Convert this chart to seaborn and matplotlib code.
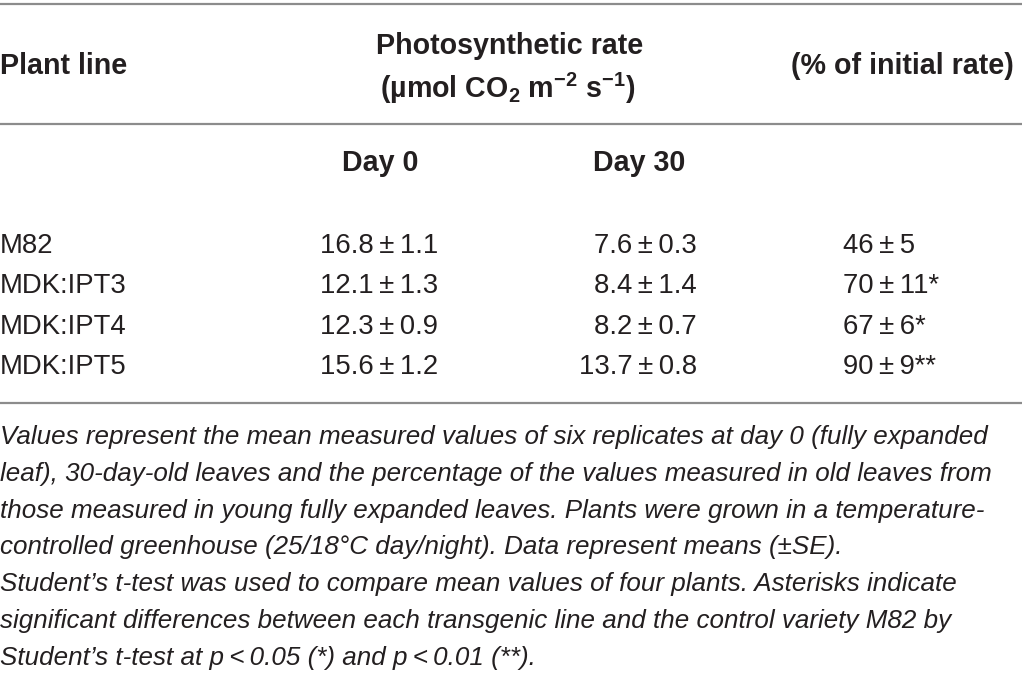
import matplotlib
matplotlib.use("Agg")
import matplotlib.pyplot as plt
import seaborn as sns

# table values
plant_lines = ["M82", "MDK:IPT3", "MDK:IPT4", "MDK:IPT5"]
day0_mean = [16.8, 12.1, 12.3, 15.6]
day0_se = [1.1, 1.3, 0.9, 1.2]
day30_mean = [7.6, 8.4, 8.2, 13.7]
day30_se = [0.3, 1.4, 0.7, 0.8]
pct_mean = [46, 70, 67, 90]
pct_se = [5, 11, 6, 9]
pct_sig = ["", "*", "*", "**"]

caption = [
    "Values represent the mean measured values of six replicates at day 0 (fully expanded",
    "leaf), 30-day-old leaves and the percentage of the values measured in old leaves from",
    "those measured in young fully expanded leaves. Plants were grown in a temperature-",
    "controlled greenhouse (25/18\u00b0C day/night). Data represent means (\u00b1SE).",
    "Student\u2019s t-test was used to compare mean values of four plants. Asterisks indicate",
    "significant differences between each transgenic line and the control variety M82 by",
    "Student\u2019s t-test at p\u2009<\u20090.05 (*) and p\u2009<\u20090.01 (**).",
]

sns.set_theme(style="white")
plt.rcParams["font.family"] = ["Liberation Sans", "DejaVu Sans"]
plt.rcParams["mathtext.fontset"] = "custom"
plt.rcParams["mathtext.rm"] = "Liberation Sans"
plt.rcParams["mathtext.bf"] = "Liberation Sans:bold"

INK = "#231f20"
RULE = "#8c8c8c"
HEAD = 20.6
BODY = 19.8
NOTE = 18.7
SP = "\u2009"

fig = plt.figure(figsize=(10.22, 6.86), dpi=100)
ax = fig.add_axes([0, 0, 1, 1])
ax.set_xlim(0, 1022)
ax.set_ylim(686, 0)
ax.axis("off")

for y in [4, 124, 403]:
    ax.axhline(y, color=RULE, lw=1.6)

# header
hd = dict(fontsize=HEAD, fontweight="bold", color=INK, va="center")
ax.text(0, 66, "Plant line", ha="left", **hd)
ax.text(510, 46, "Photosynthetic rate", ha="center", **hd)
ax.text(508, 88, "(\u00b5mol CO$_\\mathbf{2}$ m$^\\mathbf{-2}$ s$^\\mathbf{-1}$)", ha="center", **hd)
ax.text(1014, 66, "(% of initial rate)", ha="right", **hd)
ax.text(380, 163, "Day 0", ha="center", **hd)
ax.text(639, 163, "Day 30", ha="center", **hd)

# body rows
bd = dict(fontsize=BODY, color=INK, va="center")
for i, name in enumerate(plant_lines):
    y = 246 + i * 40.3
    ax.text(0, y, name, ha="left", **bd)
    ax.text(320, y, f"{day0_mean[i]:.1f}{SP}\u00b1{SP}{day0_se[i]:.1f}", ha="left", **bd)
    ax.text(697, y, f"{day30_mean[i]:.1f}{SP}\u00b1{SP}{day30_se[i]:.1f}", ha="right", **bd)
    ax.text(843, y, f"{pct_mean[i]}{SP}\u00b1{SP}{pct_se[i]}{pct_sig[i]}", ha="left", **bd)

# footnote
for j, line in enumerate(caption):
    ax.text(0, 437 + j * 36.8, line, fontsize=NOTE, fontstyle="italic", color=INK, va="center", ha="left")

fig.savefig("out.png", dpi=100)
